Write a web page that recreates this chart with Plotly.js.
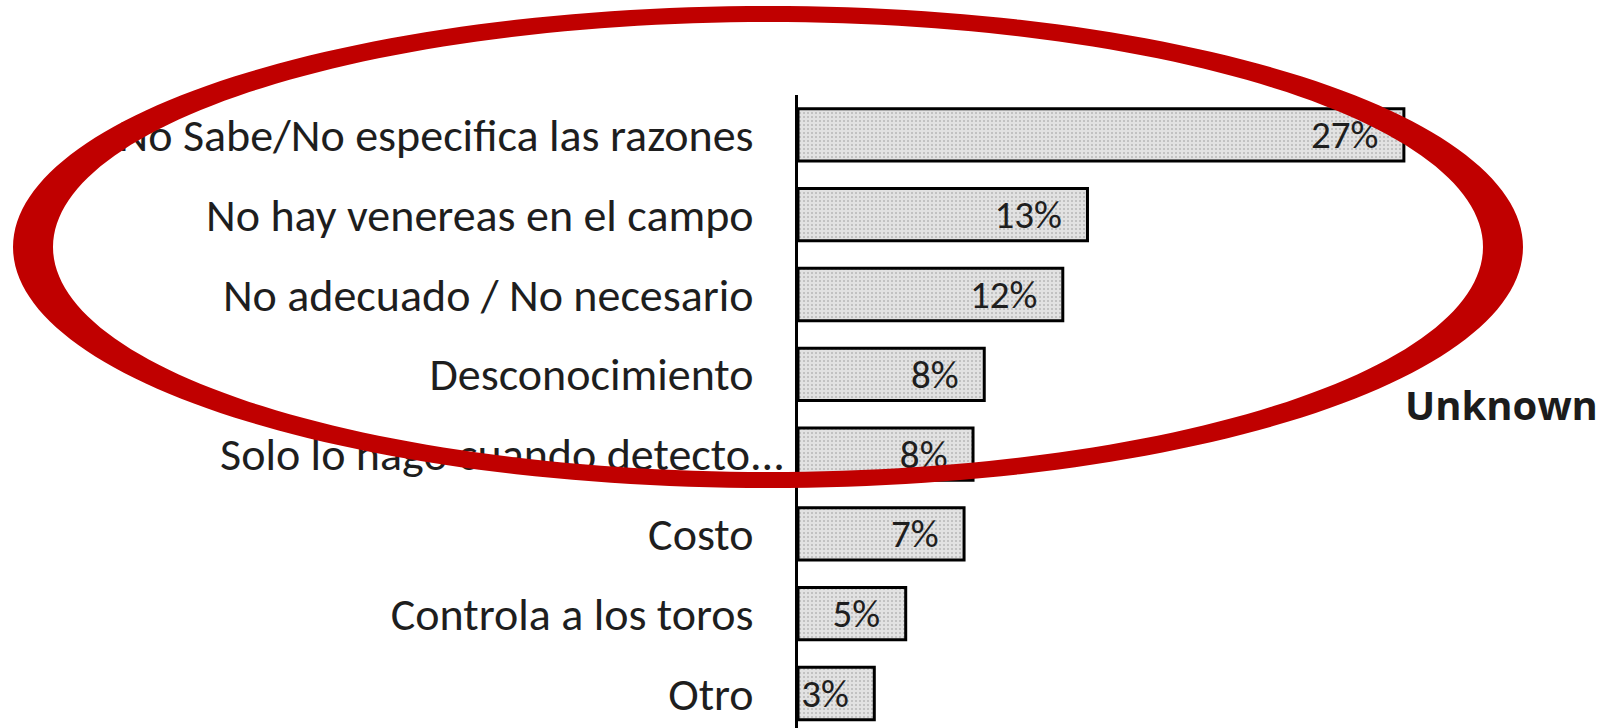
<!DOCTYPE html>
<html>
<head>
<meta charset="utf-8">
<script src="https://cdn.plot.ly/plotly-3.0.1.min.js"></script>
<style>html,body{margin:0;padding:0;background:#fff;}#chart{width:1606px;height:728px;}</style>
</head>
<body>
<div id="chart"></div>
<script>
// ---- data ----
const categories = [
  "No Sabe/No especifica las razones",
  "No hay venereas en el campo",
  "No adecuado / No necesario",
  "Desconocimiento",
  "Solo lo hago cuando detecto...",
  "Costo",
  "Controla a los toros",
  "Otro"
];
const values = [27.0, 12.9, 11.8, 8.3, 7.8, 7.4, 4.8, 3.4];
const valueLabels = ["27%", "13%", "12%", "8%", "8%", "7%", "5%", "3%"];
const noteText = "Unknown";

// ---- layout constants ----
const W = 1606, H = 728;
const M = {l: 798, r: 0, t: 95, b: 0};
const PW = W - M.l - M.r, PH = H - M.t - M.b;
const FONT = "Carlito, Calibri, Lato, sans-serif";

// tick labels: Excel lets truncated labels ("...") overflow toward the axis
const NBSP = "\u00a0";
const tickText = categories.map(c => c.endsWith("...") ? c : c + NBSP.repeat(3));

const trace = {
  type: "bar",
  orientation: "h",
  y: categories,
  x: values,
  text: valueLabels,
  texttemplate: "%{text}" + NBSP.repeat(2) + "\u200a",
  textposition: "inside",
  insidetextanchor: "end",
  constraintext: "none",
  textfont: {family: FONT, size: 39, color: "#1e1e1e"},
  marker: {
    color: "#dcdcdc",
    line: {color: "#000000", width: 3},
    pattern: {shape: ".", bgcolor: "#e2e2e2", fgcolor: "#b8b8b8", size: 4, solidity: 0.2}
  },
  hoverinfo: "none",
  cliponaxis: false
};

// red hand-drawn ellipse (pixel geometry converted to paper coords)
const E = {cx: 768, cy: 247, rxO: 755, ryO: 241, rxI: 715, ryI: 225};
const px2x = p => (p - M.l) / PW;
const py2y = p => 1 - (p - M.t) / PH;
function ellipsePath(rx, ry) {
  let s = "";
  const n = 240;
  for (let i = 0; i <= n; i++) {
    const a = 2 * Math.PI * i / n;
    const x = px2x(E.cx + rx * Math.cos(a));
    const y = py2y(E.cy + ry * Math.sin(a));
    s += (i === 0 ? "M" : "L") + x.toFixed(5) + "," + y.toFixed(5);
  }
  return s + "Z";
}

const layout = {
  width: W, height: H,
  margin: {l: M.l, r: M.r, t: M.t, b: M.b, pad: 0},
  paper_bgcolor: "#ffffff",
  plot_bgcolor: "#ffffff",
  showlegend: false,
  bargap: 0.345,
  xaxis: {range: [0, PW / 22.44], visible: false, fixedrange: true},
  yaxis: {
    type: "category",
    range: [categories.length - 0.5 - (categories.length * 79.8 - PH) / 79.8, -0.5],
    showline: true, linecolor: "#000000", linewidth: 3,
    showgrid: false, zeroline: false, ticks: "",
    tickmode: "array", tickvals: categories, ticktext: tickText,
    ticklabelstandoff: 1,
    tickfont: {family: FONT, size: 46, color: "#1e1e1e"},
    automargin: false, fixedrange: true
  },
  shapes: [{
    type: "path", xref: "paper", yref: "paper",
    path: ellipsePath(E.rxO, E.ryO) + ellipsePath(E.rxI, E.ryI),
    fillcolor: "#c00000", fillrule: "evenodd",
    line: {width: 0}, layer: "above"
  }],
  annotations: [{
    text: "<b>" + noteText + "</b>",
    xref: "paper", yref: "paper",
    x: px2x(1403), y: py2y(404),
    xanchor: "left", yanchor: "middle",
    showarrow: false,
    font: {family: "Open Sans, sans-serif", size: 40, color: "#1c1c1c"}
  }]
};

Plotly.newPlot("chart", [trace], layout, {staticPlot: true, displayModeBar: false});
</script>
</body>
</html>
